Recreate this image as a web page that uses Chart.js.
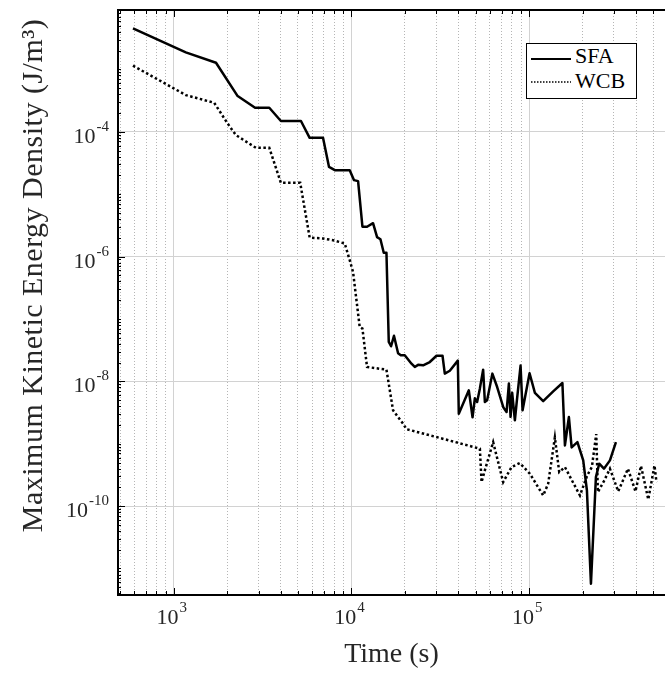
<!DOCTYPE html>
<html lang="en">
<head>
<meta charset="UTF-8">
<title>Maximum Kinetic Energy Density</title>
<script src="https://cdn.jsdelivr.net/npm/chart.js"></script>
<style>
  html, body { margin: 0; padding: 0; background: #fff; overflow: hidden; }
  #wrap { position: relative; width: 665px; height: 677px; }
  #legend {
    position: absolute; left: 526px; top: 43px; width: 111px; height: 56px;
    box-sizing: border-box; border: 1.5px solid #000; background: #fff;
    font-family: "Liberation Serif", serif; font-size: 22px; color: #000;
  }
  #legend svg { position: absolute; left: 4px; }
  #legend span { position: absolute; left: 48px; line-height: 22px; }
</style>
</head>
<body>
<div id="wrap">
  <canvas id="chart" width="665" height="677"></canvas>
  <div id="legend">
    <svg style="top:13px" width="40" height="4"><line x1="0" y1="2" x2="40" y2="2" stroke="#000" stroke-width="2"/></svg>
    <span style="top:1px">SFA</span>
    <svg style="top:36px" width="40" height="4"><line x1="0" y1="2" x2="40" y2="2" stroke="#000" stroke-width="1.7" stroke-dasharray="1.5 1.5"/></svg>
    <span style="top:26px">WCB</span>
  </div>
</div>

<script>
// values
const sfaTime = [590, 1170, 1730, 2290, 2870, 3450, 4010, 5200, 5820, 6920, 7480, 8060, 9780,
  10340, 10900, 11530, 12240, 13230, 13940, 14560, 15200, 15740, 16220, 16710, 17350, 18300,
  18950, 19950, 21770, 22720, 23710, 25300, 27600, 30100, 32540, 33520, 35770, 39680, 40180,
  42880, 45760, 48010, 49470, 50960, 52780, 55080, 56320, 58000, 62070, 66050, 71560, 74600,
  76880, 78580, 80240, 83090, 84920, 89440, 91800, 100500, 107700, 119900, 136500, 153800,
  158900, 167300, 173300, 186800, 201400, 211300, 222600, 237400, 247800, 263400, 284700, 307700];
const sfaEnergy = [4.56e-3, 1.88e-3, 1.28e-3, 3.74e-4, 2.43e-4, 2.43e-4, 1.49e-4, 1.49e-4, 8.0e-5,
  8.0e-5, 2.74e-5, 2.43e-5, 2.43e-5, 1.68e-5, 1.62e-5, 3.01e-6, 3.01e-6, 3.43e-6, 2.05e-6, 1.90e-6,
  1.15e-6, 1.15e-6, 4.28e-8, 3.65e-8, 5.37e-8, 2.82e-8, 2.62e-8, 2.62e-8, 1.92e-8, 1.70e-8, 1.84e-8,
  1.81e-8, 2.04e-8, 2.57e-8, 2.57e-8, 1.33e-8, 1.48e-8, 2.15e-8, 3.03e-9, 4.66e-9, 7.18e-9, 2.65e-9,
  5.34e-9, 4.66e-9, 7.64e-9, 1.54e-8, 4.66e-9, 4.96e-9, 1.33e-8, 8.11e-9, 3.83e-9, 3.22e-9, 9.2e-9,
  2.70e-9, 6.55e-9, 2.37e-9, 4.40e-9, 1.79e-8, 3.43e-9, 1.35e-8, 6.55e-9, 4.83e-9, 6.92e-9, 9.4e-9,
  9.41e-10, 2.68e-9, 8.74e-10, 1.06e-9, 5.41e-10, 1.78e-10, 5.69e-12, 2.92e-10, 4.79e-10, 3.98e-10,
  5.41e-10, 1.06e-9];

const wcbTime = [590, 1170, 1690, 2010, 2240, 2900, 3450, 4010, 5150, 5820, 6920, 7880, 9170, 9780,
  10210, 11130, 11530, 12240, 15740, 17150, 19520, 20400, 30100, 52800, 53950, 56300, 62700, 71400,
  79600, 88600, 100900, 119900, 127900, 139500, 147600, 158900, 193000, 212100, 225400, 238400,
  243600, 263400, 284700, 317000, 359500, 396300, 425600, 467800, 507000, 520200];
const wcbEnergy = [1.15e-3, 3.88e-4, 2.92e-4, 1.36e-4, 8.85e-5, 5.54e-5, 5.54e-5, 1.52e-5, 1.52e-5,
  2.02e-6, 1.95e-6, 1.83e-6, 1.62e-6, 8.75e-7, 5.68e-7, 7.44e-8, 7.02e-8, 1.70e-8, 1.54e-8, 3.43e-9,
  2.10e-9, 1.71e-9, 1.28e-9, 8.33e-10, 2.43e-10, 3.73e-10, 1.06e-9, 2.43e-10, 4.22e-10, 4.90e-10,
  3.31e-10, 1.48e-10, 2.29e-10, 1.26e-9, 3.51e-10, 4.22e-10, 1.48e-10, 3.10e-10, 4.26e-10, 1.43e-9,
  1.68e-10, 2.52e-10, 3.98e-10, 1.72e-10, 3.98e-10, 1.72e-10, 4.41e-10, 1.28e-10, 4.49e-10, 2.43e-10];

const xLabelExps = [3, 4, 5];
const yLabelExps = [-10, -8, -6, -4];
const xMin = 486, xMax = 5.81e5;
const yMin = 3.76e-12, yMax = 8.97e-3;
const yTitle = 'Maximum Kinetic Energy Density (J/m³)';

const FONT = '"Liberation Serif", "Times New Roman", serif';
const TEXT = '#262626';

const isDecade = v => Math.abs(Math.log10(v) - Math.round(Math.log10(v))) < 1e-9;

// 1..9 x 10^k values inside a range, used for grid lines and minor tick marks
function logSteps(lo, hi) {
  const out = [];
  for (let k = Math.floor(Math.log10(lo)); k <= Math.ceil(Math.log10(hi)); k++) {
    for (let m = 1; m <= 9; m++) {
      const v = m * Math.pow(10, k);
      if (v >= lo && v <= hi) out.push(v);
    }
  }
  return out;
}
const xSteps = logSteps(xMin, xMax);
const ySteps = logSteps(yMin, yMax);

function drawPow(ctx, exp, x, baseline, align) {
  ctx.font = '22px ' + FONT;
  const wb = ctx.measureText('10').width;
  ctx.font = '15px ' + FONT;
  const ws = ctx.measureText(String(exp)).width;
  const left = align === 'right' ? x - wb - ws - 1 : x - (wb + ws + 1) / 2;
  ctx.font = '22px ' + FONT;
  ctx.fillText('10', left, baseline);
  ctx.font = '15px ' + FONT;
  ctx.fillText(String(exp), left + wb + 1, baseline - 12);
}

const axisDecor = {
  id: 'axisDecor',
  afterDraw(chart) {
    const { ctx, chartArea: a, scales: { x, y } } = chart;
    ctx.save();
    ctx.strokeStyle = '#000';
    ctx.lineWidth = 2;
    ctx.beginPath();
    ctx.moveTo(a.left - 1, a.top);
    ctx.lineTo(a.right, a.top);
    ctx.stroke();

    // inward tick marks
    ctx.lineWidth = 1;
    ctx.beginPath();
    xSteps.forEach(v => {
      const px = Math.round(x.getPixelForValue(v)) + 0.5;
      const len = isDecade(v) ? 7 : 4;
      ctx.moveTo(px, a.bottom); ctx.lineTo(px, a.bottom - len);
      ctx.moveTo(px, a.top); ctx.lineTo(px, a.top + len);
    });
    ySteps.forEach(v => {
      const py = Math.round(y.getPixelForValue(v)) + 0.5;
      const major = yLabelExps.some(e => Math.abs(Math.log10(v) - e) < 1e-9);
      ctx.moveTo(a.left, py); ctx.lineTo(a.left + (major ? 7 : 3), py);
    });
    ctx.stroke();

    // tick labels
    ctx.fillStyle = TEXT;
    ctx.textAlign = 'left';
    ctx.textBaseline = 'alphabetic';
    xLabelExps.forEach(e => {
      drawPow(ctx, e, x.getPixelForValue(Math.pow(10, e)) - 2, a.bottom + 29, 'center');
    });
    yLabelExps.forEach(e => {
      drawPow(ctx, e, a.left - 9, y.getPixelForValue(Math.pow(10, e)) + 11, 'right');
    });

    // y axis title, sits a little above the axis middle as in the original
    ctx.font = '30px ' + FONT;
    if ('letterSpacing' in ctx) ctx.letterSpacing = '0.5px';
    ctx.translate(42, (a.top + a.bottom) / 2 - 27);
    ctx.rotate(-Math.PI / 2);
    ctx.textAlign = 'center';
    ctx.fillText(yTitle, 0, 0);
    ctx.restore();
  }
};

new Chart(document.getElementById('chart'), {
  type: 'line',
  data: {
    datasets: [
      {
        label: 'SFA',
        data: sfaTime.map((t, i) => ({ x: t, y: sfaEnergy[i] })),
        borderColor: '#000',
        borderWidth: 2.5,
        borderJoinStyle: 'round',
        pointRadius: 0,
        tension: 0,
        fill: false
      },
      {
        label: 'WCB',
        data: wcbTime.map((t, i) => ({ x: t, y: wcbEnergy[i] })),
        borderColor: '#000',
        borderWidth: 2.5,
        borderDash: [2.5, 2.5],
        pointRadius: 0,
        tension: 0,
        fill: false
      }
    ]
  },
  options: {
    responsive: false,
    animation: false,
    layout: { padding: { top: 10, right: 0, bottom: 0, left: 0 } },
    plugins: { legend: { display: false }, tooltip: { enabled: false } },
    scales: {
      x: {
        type: 'logarithmic',
        min: xMin,
        max: xMax,
        bounds: 'data',
        afterBuildTicks: s => { s.ticks = xSteps.map(v => ({ value: v })); },
        afterFit: s => { s.height = 82; },
        ticks: { display: false },
        grid: {
          drawTicks: false,
          lineWidth: 1,
          color: c => (c.tick && !isDecade(c.tick.value)) ? '#b5b5b5' : '#d2d2d2'
        },
        border: {
          color: '#000',
          width: 2,
          dash: c => (c.tick && !isDecade(c.tick.value)) ? [1, 2] : []
        },
        title: {
          display: true,
          text: 'Time (s)',
          color: TEXT,
          font: { family: FONT, size: 28, lineHeight: 1.2 },
          padding: { top: 0, bottom: 6 }
        }
      },
      y: {
        type: 'logarithmic',
        min: yMin,
        max: yMax,
        bounds: 'data',
        afterBuildTicks: s => { s.ticks = yLabelExps.map(e => ({ value: Math.pow(10, e) })); },
        afterFit: s => { s.width = 118; },
        ticks: { display: false },
        grid: { drawTicks: false, lineWidth: 1, color: '#d2d2d2' },
        border: { color: '#000', width: 2 },
        title: { display: false }
      }
    }
  },
  plugins: [axisDecor]
});
</script>
</body>
</html>
